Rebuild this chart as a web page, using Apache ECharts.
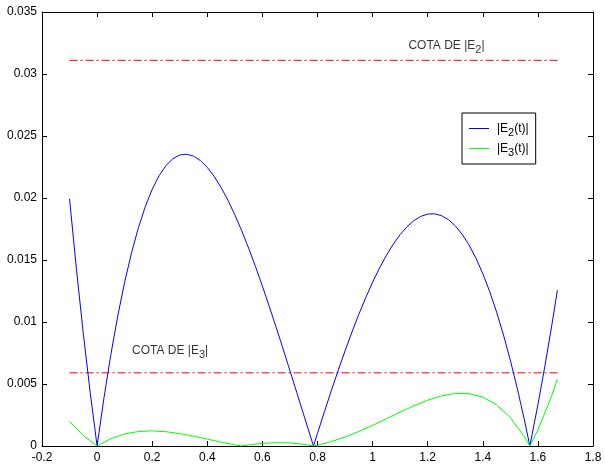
<!DOCTYPE html>
<html><head><meta charset="utf-8">
<script src="https://cdn.jsdelivr.net/npm/echarts@6/dist/echarts.min.js"></script>
<style>html,body{margin:0;padding:0;background:#fff}#c{width:605px;height:464px}</style>
</head><body><div id="c"></div>
<script>
// |E2(t)| samples
const tE2 = [-0.1,-0.075,-0.05,-0.025,0,0.025,0.05,0.075,0.10,0.125,0.15,0.175,0.20,0.225,0.25,0.275,0.30,0.325,0.35,0.375,0.40,0.425,0.45,0.475,0.50,0.525,0.55,0.575,0.60,0.625,0.65,0.675,0.70,0.725,0.75,0.7854,0.80,0.825,0.85,0.875,0.90,0.925,0.95,0.975,1.00,1.025,1.05,1.075,1.10,1.125,1.15,1.175,1.20,1.225,1.25,1.275,1.30,1.325,1.35,1.375,1.40,1.425,1.45,1.475,1.50,1.525,1.55,1.5708,1.60,1.625,1.65,1.6708];
const valE2 = [0.019925,0.014260,0.009061,0.004313,0,0.003893,0.007383,0.010483,0.013211,0.015581,0.017610,0.019312,0.020703,0.021799,0.022615,0.023165,0.023467,0.023532,0.023377,0.023017,0.022467,0.021740,0.020850,0.019814,0.018643,0.017352,0.015956,0.014466,0.012895,0.011258,0.009568,0.007835,0.006073,0.004295,0.002511,0,0.001025,0.002757,0.004449,0.006091,0.007673,0.009185,0.010618,0.011962,0.013208,0.014348,0.015373,0.016278,0.017050,0.017686,0.018178,0.018519,0.018704,0.018724,0.018578,0.018257,0.017758,0.017077,0.016210,0.015152,0.013901,0.012454,0.010808,0.008962,0.006912,0.004660,0.002201,0,0.003328,0.006400,0.009678,0.012558];
// |E3(t)| samples
const tE3 = [-0.1,-0.05,0,0.05,0.10,0.15,0.20,0.25,0.30,0.35,0.40,0.45,0.50,0.5236,0.55,0.60,0.65,0.70,0.75,0.7854,0.80,0.85,0.90,0.95,1.00,1.05,1.10,1.15,1.20,1.25,1.30,1.35,1.40,1.45,1.50,1.55,1.5708,1.60,1.65,1.6708];
const valE3 = [0.001965,0.000841,0,0.000593,0.000971,0.001169,0.001218,0.001151,0.000999,0.000791,0.000554,0.000313,0.000092,0,0.000090,0.000216,0.000271,0.000246,0.000134,0,0.000068,0.000357,0.000728,0.001169,0.001665,0.002195,0.002730,0.003245,0.003696,0.004043,0.004237,0.004223,0.003941,0.003326,0.002301,0.000788,0,0.001296,0.004043,0.005402];
// bounds
const cotaE2 = 0.0311;
const cotaE3 = 0.0059;
const cotaT = [-0.1, 1.6708];
// annotation anchors (data coords)
const noteE2 = [1.13, 0.0323];
const noteE3 = [0.127, 0.0077];
// axes
const xMin = -0.2, xMax = 1.8, xStep = 0.2;
const yMin = 0, yMax = 0.035, yStep = 0.005;

const FONT = '"Liberation Sans", Arial, Helvetica, sans-serif';
const rich = {
  n: {fontSize: 12, lineHeight: 14, color: '#000', fontFamily: FONT},
  s: {fontSize: 11, lineHeight: 14, padding: [8,0,0,0], color: '#000', fontFamily: FONT}
};
const zip = (a, b) => a.map((v, i) => [v, b[i]]);

const chart = echarts.init(document.getElementById('c'), null, {renderer: 'canvas'});
const axisCommon = {
  axisLine: {show: true, onZero: false, lineStyle: {color: '#000', width: 1}},
  axisTick: {show: true, inside: true, length: 5, lineStyle: {color: '#000', width: 1}},
  splitLine: {show: false}
};
const lineIcon = 'path://M0,0H20V1H0Z';
chart.setOption({
  animation: false,
  backgroundColor: '#fff',
  textStyle: {fontFamily: FONT},
  grid: {left: 42, right: 12, top: 12, bottom: 18},
  xAxis: [
    Object.assign({type: 'value', min: xMin, max: xMax, interval: xStep, position: 'bottom',
      axisLabel: {color: '#000', fontSize: 12, margin: 6, fontFamily: FONT}}, axisCommon),
    Object.assign({type: 'value', min: xMin, max: xMax, interval: xStep, position: 'top',
      axisLabel: {show: false}}, axisCommon)
  ],
  yAxis: [
    Object.assign({type: 'value', min: yMin, max: yMax, interval: yStep, position: 'left',
      axisLabel: {color: '#000', fontSize: 12, margin: 5, fontFamily: FONT}}, axisCommon),
    Object.assign({type: 'value', min: yMin, max: yMax, interval: yStep, position: 'right',
      axisLabel: {show: false}}, axisCommon)
  ],
  legend: {
    data: [{name: 'E2', icon: lineIcon}, {name: 'E3', icon: lineIcon}],
    orient: 'vertical',
    left: 462, top: 113,
    padding: [6, 7, 6, 7],
    itemWidth: 20, itemHeight: 14, itemGap: 1,
    symbolKeepAspect: true,
    borderColor: '#000', borderWidth: 1, backgroundColor: '#fff',
    selectedMode: false,
    formatter: name => name === 'E2' ? '{n||E}{s|2}{n|(t)|}' : '{n||E}{s|3}{n|(t)|}',
    textStyle: {rich: rich, fontSize: 12, color: '#000', padding: [0, 0, 0, 3]}
  },
  series: [
    {name: 'E2', type: 'line', data: zip(tE2, valE2), symbol: 'none', showSymbol: false,
     lineStyle: {color: '#0000ff', width: 1}, itemStyle: {color: '#0000ff'}, z: 3},
    {name: 'E3', type: 'line', data: zip(tE3, valE3), symbol: 'none', showSymbol: false,
     lineStyle: {color: '#00ff00', width: 1}, itemStyle: {color: '#00ff00'}, z: 3},
    {name: 'cota2', type: 'line', data: cotaT.map(t => [t, cotaE2]), symbol: 'none',
     lineStyle: {color: '#ff0000', width: 1, type: [8, 3, 2, 3]}, z: 2},
    {name: 'cota3', type: 'line', data: cotaT.map(t => [t, cotaE3]), symbol: 'none',
     lineStyle: {color: '#ff0000', width: 1, type: [8, 3, 2, 3]}, z: 2},
    {name: 'notes', type: 'scatter', symbolSize: 0, silent: true, z: 5,
     data: [
       {value: noteE2, label: {formatter: '{n|COTA DE |E}{s|2}{n||}'}},
       {value: noteE3, label: {formatter: '{n|COTA DE |E}{s|3}{n||}'}}
     ],
     label: {show: true, position: 'right', distance: 0, rich: rich, color: '#000', fontSize: 12}}
  ]
});
</script></body></html>
